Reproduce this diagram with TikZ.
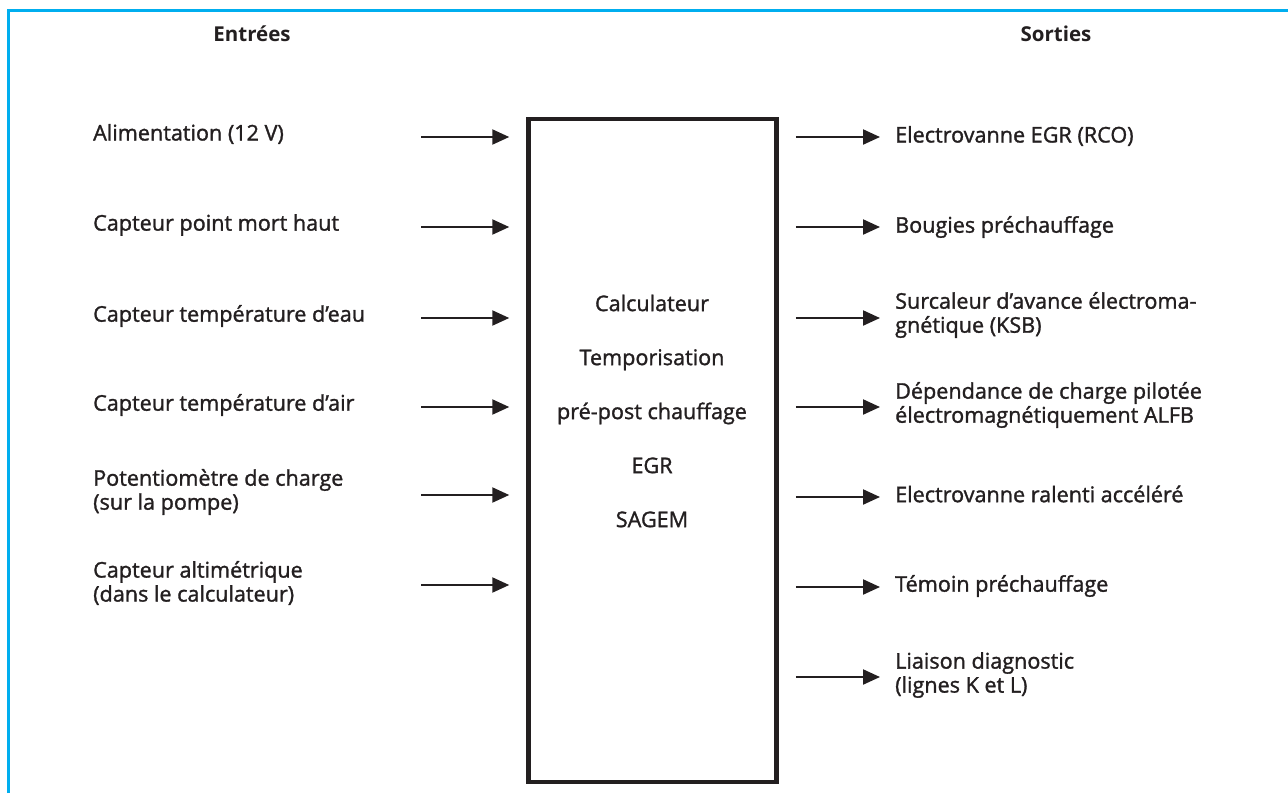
\documentclass[tikz,border=0pt]{standalone}
\usepackage{fontspec}
\setmainfont{Open Sans}
\newfontfamily\bodyfont{Open Sans}[FakeBold=1.4]
\usetikzlibrary{arrows.meta}
\definecolor{framecyan}{RGB}{0,174,239}
\definecolor{ink}{RGB}{35,31,32}

\begin{document}
\begin{tikzpicture}[x=1pt, y=-1pt, color=ink,
  lbl/.style={anchor=west, align=left, inner sep=0pt, font=\bodyfont\fontsize{21.6}{24}\selectfont},
  head/.style={inner sep=0pt, font=\fontsize{20.5}{24}\selectfont\bfseries},
  sig/.style={-{Triangle[length=17pt,width=15pt]}, line width=2.2pt}]
\useasboundingbox (0,0) rectangle (1288,793);

% frame
\draw[framecyan, line width=3pt] (8,793) -- (8,10) -- (1288,10);

% titles
\node[head] (entrees) at (252,34) {Entrées};
\node[head] (sorties) at (1056,34) {Sorties};

% computer
\node[draw, line width=4.5pt, minimum width=248pt, minimum height=663pt, inner sep=0pt] (ecu) at (652.5,450.5) {};
\node[align=center, inner sep=0pt, font=\bodyfont\fontsize{21.6}{54}\selectfont] (ecutext) at (652,411)
  {Calculateur\\Temporisation\\pré-post chauffage\\EGR\\SAGEM};

% inputs
\node[lbl] (i1) at (93,134) {Alimentation (12 V)};
\node[lbl] (i2) at (93,225) {Capteur point mort haut};
\node[lbl] (i3) at (93,316) {Capteur température d’eau};
\node[lbl] (i4) at (93,405) {Capteur température d’air};
\node[lbl] (i5) at (93,492) {Potentiomètre de charge\\(sur la pompe)};
\node[lbl] (i6) at (93,583) {Capteur altimétrique\\(dans le calculateur)};

\coordinate (a1) at (421,137);
\coordinate (a2) at (421,227);
\coordinate (a3) at (421,318);
\coordinate (a4) at (421,407);
\coordinate (a5) at (421,495);
\coordinate (a6) at (421,585);

\draw[sig, shorten >=17pt] (a1) -- (ecu.west |- a1);
\draw[sig, shorten >=17pt] (a2) -- (ecu.west |- a2);
\draw[sig, shorten >=17pt] (a3) -- (ecu.west |- a3);
\draw[sig, shorten >=17pt] (a4) -- (ecu.west |- a4);
\draw[sig, shorten >=17pt] (a5) -- (ecu.west |- a5);
\draw[sig, shorten >=17pt] (a6) -- (ecu.west |- a6);

% outputs
\node[lbl] (o1) at (895,136) {Electrovanne EGR (RCO)};
\node[lbl] (o2) at (895,227) {Bougies préchauffage};
\node[lbl] (o3) at (895,315) {Surcaleur d’avance électroma-\\gnétique (KSB)};
\node[lbl] (o4) at (895,405) {Dépendance de charge pilotée\\électromagnétiquement ALFB};
\node[lbl] (o5) at (895,494) {Electrovanne ralenti accéléré};
\node[lbl] (o6) at (895,586) {Témoin préchauffage};
\node[lbl] (o7) at (895,675) {Liaison diagnostic\\(lignes K et L)};

\coordinate (b1) at (880,137);
\coordinate (b2) at (880,227);
\coordinate (b3) at (880,318);
\coordinate (b4) at (880,407);
\coordinate (b5) at (880,497);
\coordinate (b6) at (880,587);
\coordinate (b7) at (880,677);

\draw[sig, shorten <=17pt] (ecu.east |- b1) -- (b1);
\draw[sig, shorten <=17pt] (ecu.east |- b2) -- (b2);
\draw[sig, shorten <=17pt] (ecu.east |- b3) -- (b3);
\draw[sig, shorten <=17pt] (ecu.east |- b4) -- (b4);
\draw[sig, shorten <=17pt] (ecu.east |- b5) -- (b5);
\draw[sig, shorten <=17pt] (ecu.east |- b6) -- (b6);
\draw[sig, shorten <=17pt] (ecu.east |- b7) -- (b7);
\end{tikzpicture}
\end{document}
